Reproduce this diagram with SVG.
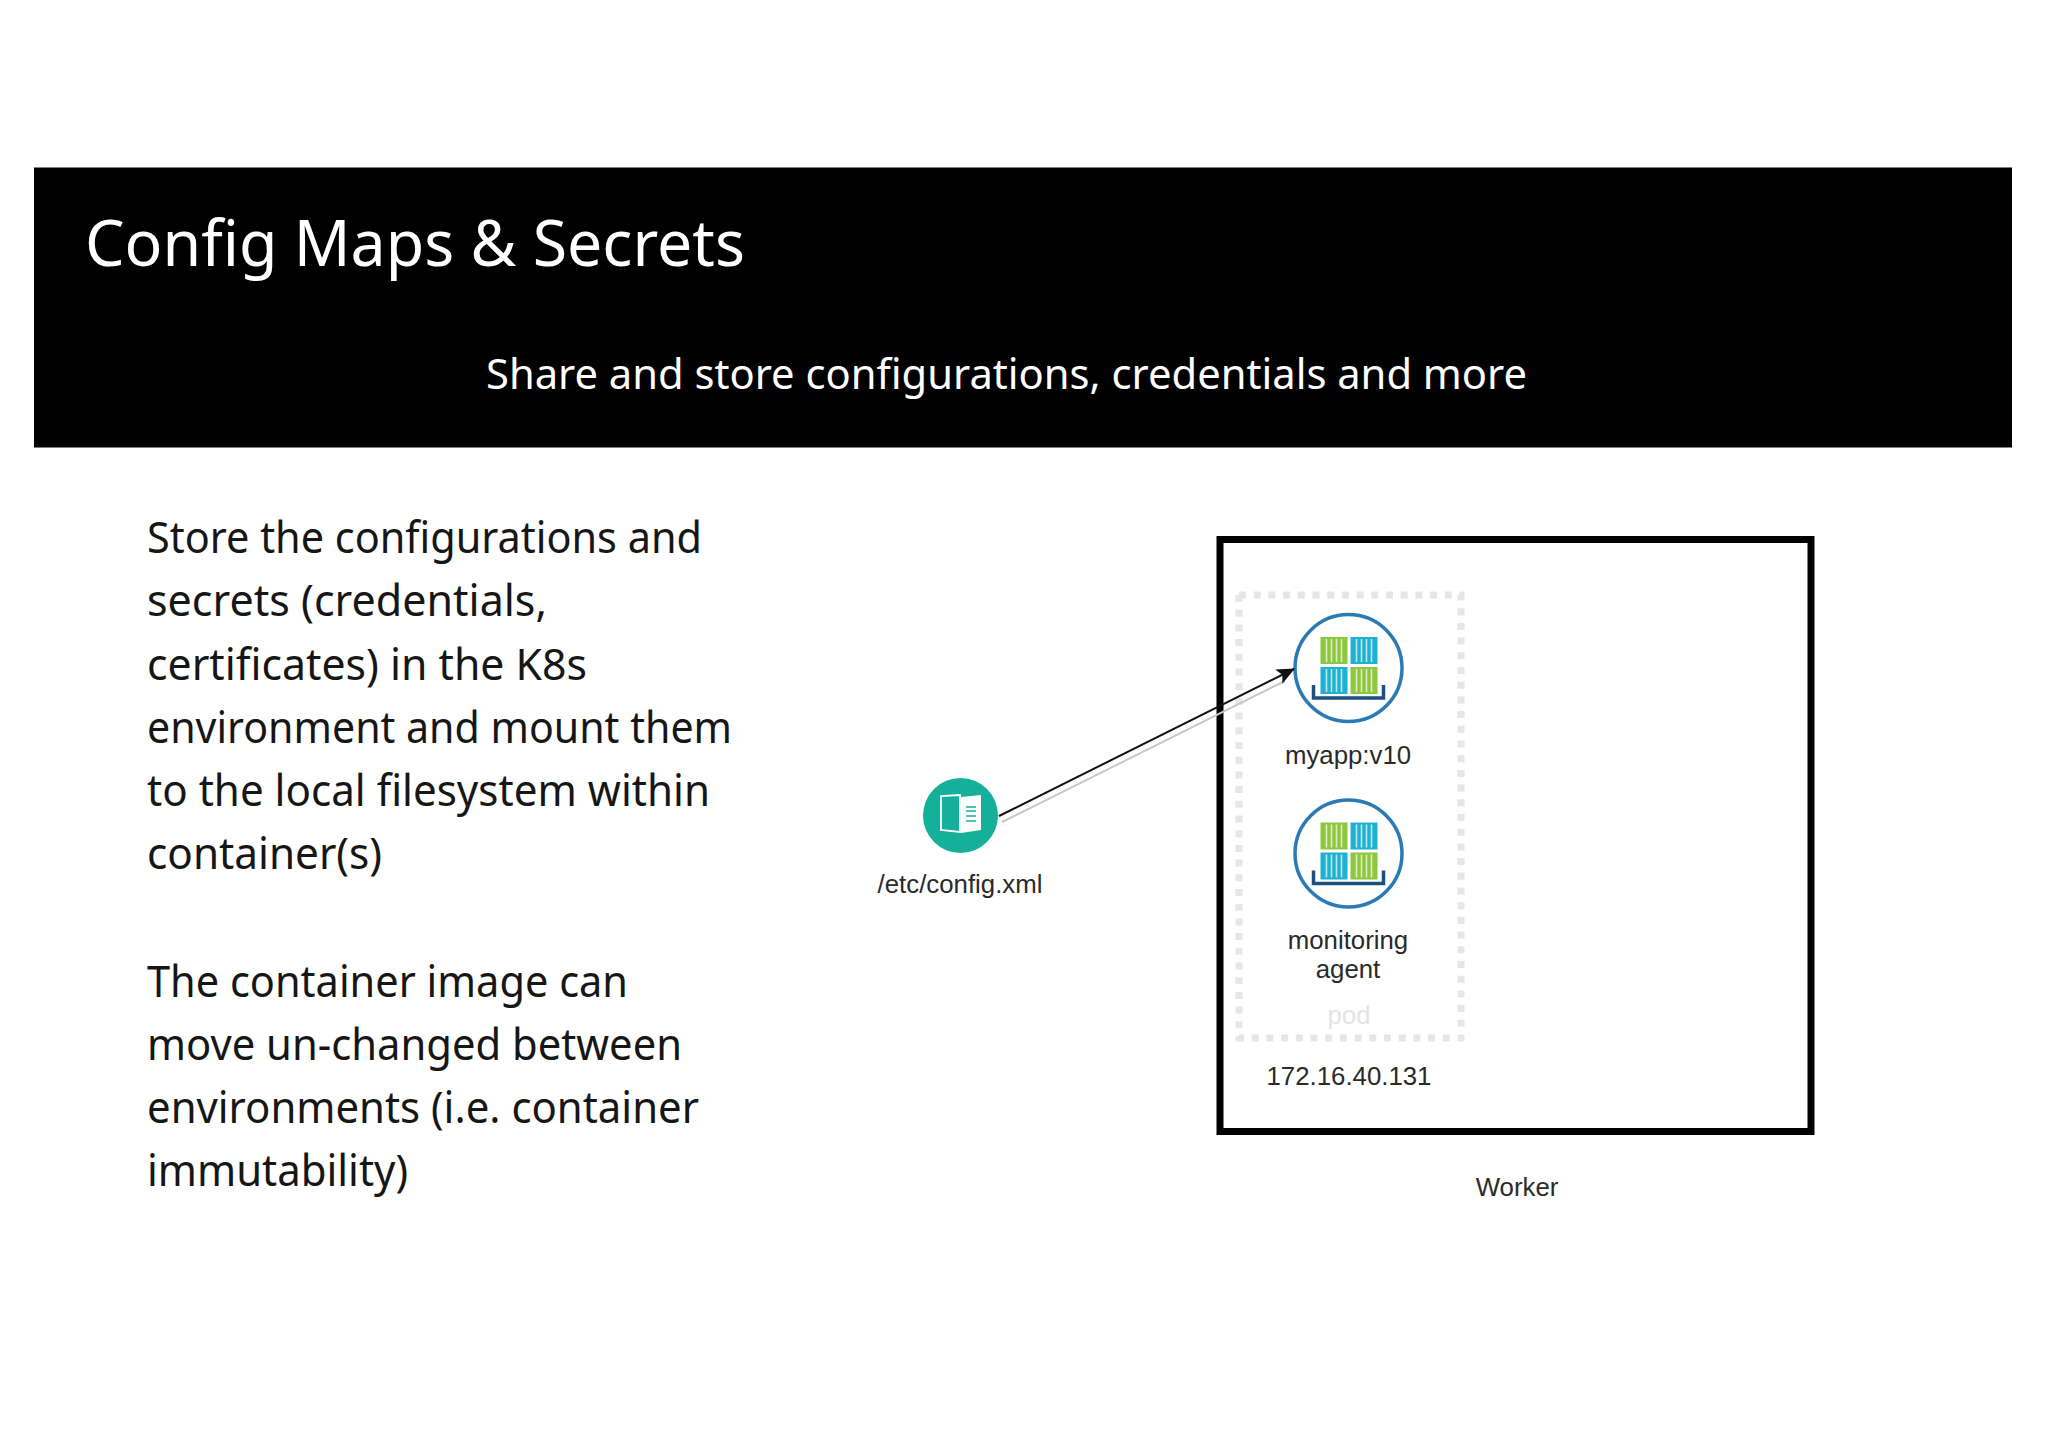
<svg xmlns="http://www.w3.org/2000/svg" xmlns:xlink="http://www.w3.org/1999/xlink" width="2048" height="1448" viewBox="0 0 2048 1448">
<style>
.b{font-family:"Noto Sans","Open Sans",sans-serif;font-size:43px;fill:#161616}
.l{font-family:"Liberation Sans",Arial,sans-serif;font-size:25.8px;fill:#2a2a2a;text-anchor:middle}
.h{font-family:"Noto Sans","Open Sans",sans-serif;fill:#fff}
</style>
<defs>
<g id="crate"><rect width="27" height="27"/><path d="M6 2V25M11 2V25M16 2V25M21 2V25" stroke="#fff" stroke-opacity=".7" stroke-width="1.6" fill="none"/></g>
<g id="pallet">
<circle r="53.5" fill="#fff" stroke="#2a7ab5" stroke-width="3.5"/>
<use xlink:href="#crate" x="-28" y="-31" fill="#8dc63f"/>
<use xlink:href="#crate" x="2" y="-31" fill="#1fb1d2"/>
<use xlink:href="#crate" x="-28" y="-1" fill="#1fb1d2"/>
<use xlink:href="#crate" x="2" y="-1" fill="#8dc63f"/>
<path d="M-35 17V30H35V17" fill="none" stroke="#1f4f7c" stroke-width="3.5"/>
</g>
<marker id="ah" markerWidth="18" markerHeight="16" refX="17" refY="8" orient="auto" markerUnits="userSpaceOnUse"><path d="M0 0L18 8L0 16L4 8Z" fill="#111"/></marker>
</defs>
<rect width="2048" height="1448" fill="#fff"/>
<g id="header">
<rect x="34" y="167.500" width="1978" height="280" fill="#000"/>
<text class="h" x="85" y="266" font-size="63" textLength="660" lengthAdjust="spacingAndGlyphs">Config Maps &amp; Secrets</text>
<text class="h" x="486" y="389" font-size="42" textLength="1041" lengthAdjust="spacingAndGlyphs">Share and store configurations, credentials and more</text>
</g>
<g id="body-text">
<text class="b" x="147" y="553" textLength="555" lengthAdjust="spacingAndGlyphs">Store the configurations and</text>
<text class="b" x="147" y="616" textLength="400" lengthAdjust="spacingAndGlyphs">secrets (credentials,</text>
<text class="b" x="147" y="680" textLength="440" lengthAdjust="spacingAndGlyphs">certificates) in the K8s</text>
<text class="b" x="147" y="743" textLength="585" lengthAdjust="spacingAndGlyphs">environment and mount them</text>
<text class="b" x="147" y="806" textLength="563" lengthAdjust="spacingAndGlyphs">to the local filesystem within</text>
<text class="b" x="147" y="869" textLength="235" lengthAdjust="spacingAndGlyphs">container(s)</text>
<text class="b" x="147" y="997" textLength="481" lengthAdjust="spacingAndGlyphs">The container image can</text>
<text class="b" x="147" y="1060" textLength="535" lengthAdjust="spacingAndGlyphs">move un-changed between</text>
<text class="b" x="147" y="1123" textLength="552" lengthAdjust="spacingAndGlyphs">environments (i.e. container</text>
<text class="b" x="147" y="1186" textLength="261" lengthAdjust="spacingAndGlyphs">immutability)</text>
</g>
<g id="worker">
<rect x="1220" y="539.500" width="591" height="592" fill="#fff" stroke="#000" stroke-width="7"/>
<text class="l" x="1517" y="1196">Worker</text>
</g>
<g id="pod">
<rect x="1239" y="595" width="222" height="443" fill="none" stroke="#e6e6e6" stroke-width="7" stroke-dasharray="7 7.700"/>
<text class="l" x="1349" y="1024" style="fill:#e4e4e4">pod</text>
</g>
<text class="l" x="1349" y="1085">172.16.40.131</text>
<g id="myapp">
<use xlink:href="#pallet" x="1348.500" y="668"/>
<text class="l" x="1348" y="764">myapp:v10</text>
</g>
<g id="monitoring-agent">
<use xlink:href="#pallet" x="1348.500" y="853.500"/>
<text class="l" x="1348" y="949">monitoring</text>
<text class="l" x="1348" y="978">agent</text>
</g>
<g id="config">
<circle cx="960.500" cy="815.500" r="37.500" fill="#14b09a"/>
<path d="M960 795L941 796V830L960 832Z" fill="none" stroke="#fff" stroke-width="1.800"/>
<path d="M961 797L981 795V830L961 833Z" fill="#fff"/>
<path d="M966 807H976M966 811H976M966 816H976M966 821H976" stroke="#14b09a" stroke-width="1.600"/>
<text class="l" x="960" y="893">/etc/config.xml</text>
</g>
<g id="connectors">
<line x1="1002" y1="822" x2="1285" y2="681" stroke="#c8c8c8" stroke-width="2"/>
<line x1="999" y1="816" x2="1294" y2="669" stroke="#111" stroke-width="2" marker-end="url(#ah)"/>
</g>
</svg>
